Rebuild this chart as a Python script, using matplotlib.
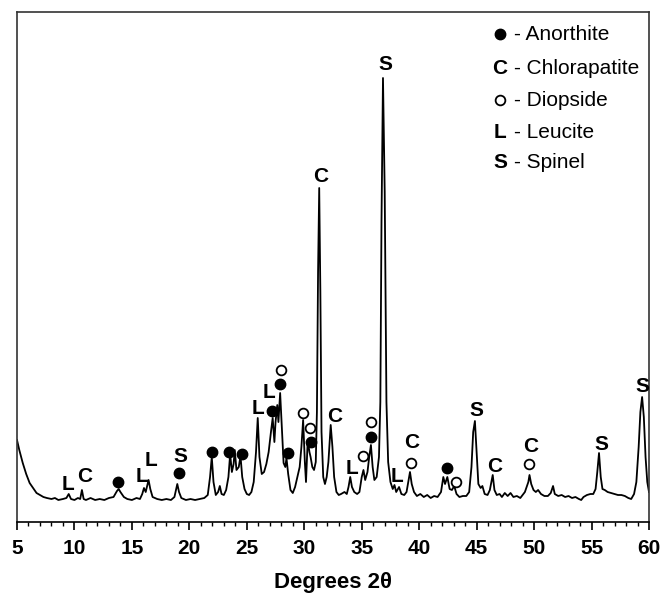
import numpy as np
import matplotlib
matplotlib.use('Agg')
import matplotlib.pyplot as plt

plt.rcParams['font.family'] = ['Liberation Sans', 'DejaVu Sans']

# XRD trace (2theta in degrees, intensity in a.u.)
two_theta = [
    5.0, 5.2, 5.5, 5.8, 6.1, 6.4, 6.7, 7.0, 7.3, 7.6, 8.0, 8.3, 8.6, 9.0, 9.3,
    9.5, 9.7, 10.0, 10.3, 10.5, 10.65, 10.8, 11.0, 11.4, 11.8, 12.2, 12.6, 13.0,
    13.4, 13.7, 13.85, 14.0, 14.3, 14.6, 15.0, 15.4, 15.7, 15.9, 16.05, 16.2,
    16.45, 16.6, 16.8, 17.2, 17.6, 18.0, 18.4, 18.7, 18.95, 19.1, 19.3, 19.7,
    20.1, 20.5, 20.9, 21.3, 21.6, 21.8, 21.95, 22.1, 22.3, 22.5, 22.65, 22.8,
    23.0, 23.2, 23.4, 23.55, 23.7, 23.85, 23.95, 24.1, 24.3, 24.45, 24.6, 24.8,
    25.0, 25.2, 25.4, 25.6, 25.8, 25.95, 26.1, 26.3, 26.5, 26.7, 26.9, 27.1,
    27.25, 27.4, 27.5, 27.65, 27.75, 27.9, 28.05, 28.2, 28.35, 28.45, 28.6,
    28.8, 29.0, 29.2, 29.4, 29.6, 29.75, 29.9, 30.05, 30.15, 30.3, 30.45, 30.55,
    30.7, 30.85, 31.0, 31.1, 31.2, 31.3, 31.4, 31.5, 31.65, 31.8, 31.95, 32.1,
    32.3, 32.45, 32.6, 32.8, 33.0, 33.2, 33.5, 33.7, 33.85, 34.0, 34.15, 34.35,
    34.6, 34.8, 35.0, 35.15, 35.3, 35.5, 35.65, 35.8, 35.95, 36.1, 36.3, 36.5,
    36.62, 36.72, 36.85, 37.0, 37.15, 37.3, 37.5, 37.7, 37.85, 38.0, 38.25,
    38.45, 38.7, 38.9, 39.05, 39.2, 39.35, 39.55, 39.8, 40.1, 40.4, 40.7, 41.0,
    41.3, 41.6, 41.9, 42.1, 42.25, 42.45, 42.65, 42.85, 43.05, 43.25, 43.5,
    43.8, 44.1, 44.35, 44.55, 44.7, 44.85, 45.0, 45.15, 45.35, 45.5, 45.7,
    45.95, 46.15, 46.4, 46.55, 46.75, 47.0, 47.2, 47.45, 47.7, 47.95, 48.2,
    48.5, 48.8, 49.0, 49.2, 49.35, 49.5, 49.6, 49.75, 49.95, 50.15, 50.35, 50.6,
    50.9, 51.2, 51.45, 51.65, 51.8, 52.1, 52.4, 52.7, 53.0, 53.3, 53.6, 53.9,
    54.1, 54.3, 54.6, 54.9, 55.15, 55.35, 55.5, 55.65, 55.8, 55.95, 56.15, 56.4,
    56.7, 57.0, 57.3, 57.6, 57.9, 58.2, 58.45, 58.7, 58.9, 59.1, 59.25, 59.4,
    59.55, 59.7, 59.85, 60.0,
]
intensity = [
    82, 72, 59, 48, 39, 34, 29, 27, 25, 24, 23, 24, 22, 23, 24,
    28, 23, 22, 24, 23, 32, 23, 22, 24, 22, 23, 22, 24,
    25, 31, 33, 30, 25, 23, 22, 24, 23, 28, 34, 30,
    42, 33, 25, 23, 22, 23, 22, 25, 38, 30, 24, 22,
    23, 22, 23, 24, 27, 45, 65, 40, 27, 30, 36, 28,
    27, 32, 45, 68, 50, 58, 72, 52, 55, 66, 45, 33,
    28, 27, 30, 40, 70, 104, 65, 48, 50, 58, 70, 90,
    104, 80, 100, 117, 100, 129, 95, 59, 55, 64, 48,
    32, 29, 35, 45, 55, 75, 102, 60, 40, 82, 70, 65,
    55, 52, 60, 110, 250, 334, 230, 90, 45, 38, 45, 60,
    97, 75, 45, 30, 27, 28, 30, 28, 35, 45, 35, 30,
    28, 30, 45, 52, 42, 50, 65, 77, 55, 42, 45, 65,
    120, 300, 444, 330, 120, 60, 40, 33, 37, 30, 35,
    28, 27, 30, 40, 50, 38, 30, 26, 28, 25, 27, 24,
    26, 25, 30, 45, 38, 45, 33, 32, 36, 28, 25,
    26, 26, 30, 55, 90, 101, 70, 38, 34, 36, 28,
    27, 32, 47, 32, 27, 28, 25, 29, 26, 29, 25,
    26, 24, 27, 30, 35, 40, 47, 38, 32, 30, 32, 28,
    26, 26, 29, 36, 28, 26, 27, 25, 26, 24, 25, 23,
    22, 25, 27, 28, 28, 33, 50, 69, 45, 33, 32, 30,
    29, 28, 27, 27, 26, 24, 23, 28, 40, 75, 110, 125,
    105, 65, 40, 30,
]

# phase labels above the peaks
letter_text = ['L', 'C', 'L', 'L', 'S', 'L', 'L', 'C', 'S', 'C', 'L', 'L',
               'C', 'S', 'C', 'C', 'S', 'S']
letter_x = [9.44, 10.92, 15.88, 16.66, 19.19, 25.97, 26.93, 31.46, 37.03,
            32.68, 34.16, 38.07, 39.38, 44.95, 46.6, 49.73, 55.83, 59.39]
letter_y = [37, 45, 45, 62, 66, 114, 130, 345, 457, 105, 54, 46, 80, 112,
            55, 76, 77, 135]

anorthite_x = [13.79, 19.10, 21.97, 23.45, 24.58, 27.19, 27.89, 28.59, 30.59,
               35.85, 42.42]
anorthite_y = [40, 49, 70, 70, 68, 111, 138, 69, 80, 85, 54]

diopside_x = [27.98, 29.89, 30.50, 35.11, 35.85, 39.29, 43.21, 49.56]
diopside_y = [152, 109, 94, 66, 100, 59, 40, 58]

legend_symbols = ['dot', 'C', 'ring', 'L', 'S']
legend_names = ['- Anorthite', '- Chlorapatite', '- Diopside', '- Leucite',
                '- Spinel']
legend_rows_px = [34, 69, 100, 133, 163]

W, H = 665, 597
fig = plt.figure(figsize=(W / 100, H / 100), dpi=100)
ax = fig.add_axes([17 / W, 1 - 522 / H, 632 / W, 510 / H])

ax.plot(two_theta, intensity, color='black', lw=1.3)

for t, x, y in zip(letter_text, letter_x, letter_y):
    ax.text(x, y, t, ha='center', va='center', fontsize=15, fontweight='bold')

ax.plot(anorthite_x, anorthite_y, 'o', ms=7.5, color='black', mec='black')
ax.plot(diopside_x, diopside_y, 'o', ms=7, mfc='white', mec='black', mew=1.3)

# legend in the upper right, built by hand
for sym, name, ypx in zip(legend_symbols, legend_names, legend_rows_px):
    yf = 1 - ypx / H
    if sym == 'dot':
        fig.lines.append(plt.Line2D([500 / W], [yf], marker='o', ms=7.5,
                                    color='black', transform=fig.transFigure))
    elif sym == 'ring':
        fig.lines.append(plt.Line2D([500 / W], [yf], marker='o', ms=7,
                                    mfc='white', mec='black', mew=1.3,
                                    transform=fig.transFigure))
    else:
        fig.text(500 / W, yf, sym, ha='center', va='center', fontsize=15,
                 fontweight='bold')
    fig.text(514 / W, yf, name, ha='left', va='center', fontsize=15)

ax.set_xlim(5, 60)
ax.set_ylim(0, 510)
ax.set_xticks(np.arange(5, 61, 5))
ax.set_xticks(np.arange(5, 61, 1), minor=True)
ax.set_yticks([])
ax.tick_params(axis='x', which='major', direction='out', length=6, width=1.2,
               labelsize=15, pad=6)
ax.tick_params(axis='x', which='minor', direction='out', length=3, width=1.0)
for lab in ax.get_xticklabels():
    lab.set_fontweight('bold')
for s in ax.spines.values():
    s.set_linewidth(1.2)
    s.set_color('#333333')
ax.spines['bottom'].set_color('black')

ax.set_xlabel('Degrees 2θ', fontsize=16, fontweight='bold', labelpad=10)

fig.savefig('out.png', dpi=100)
